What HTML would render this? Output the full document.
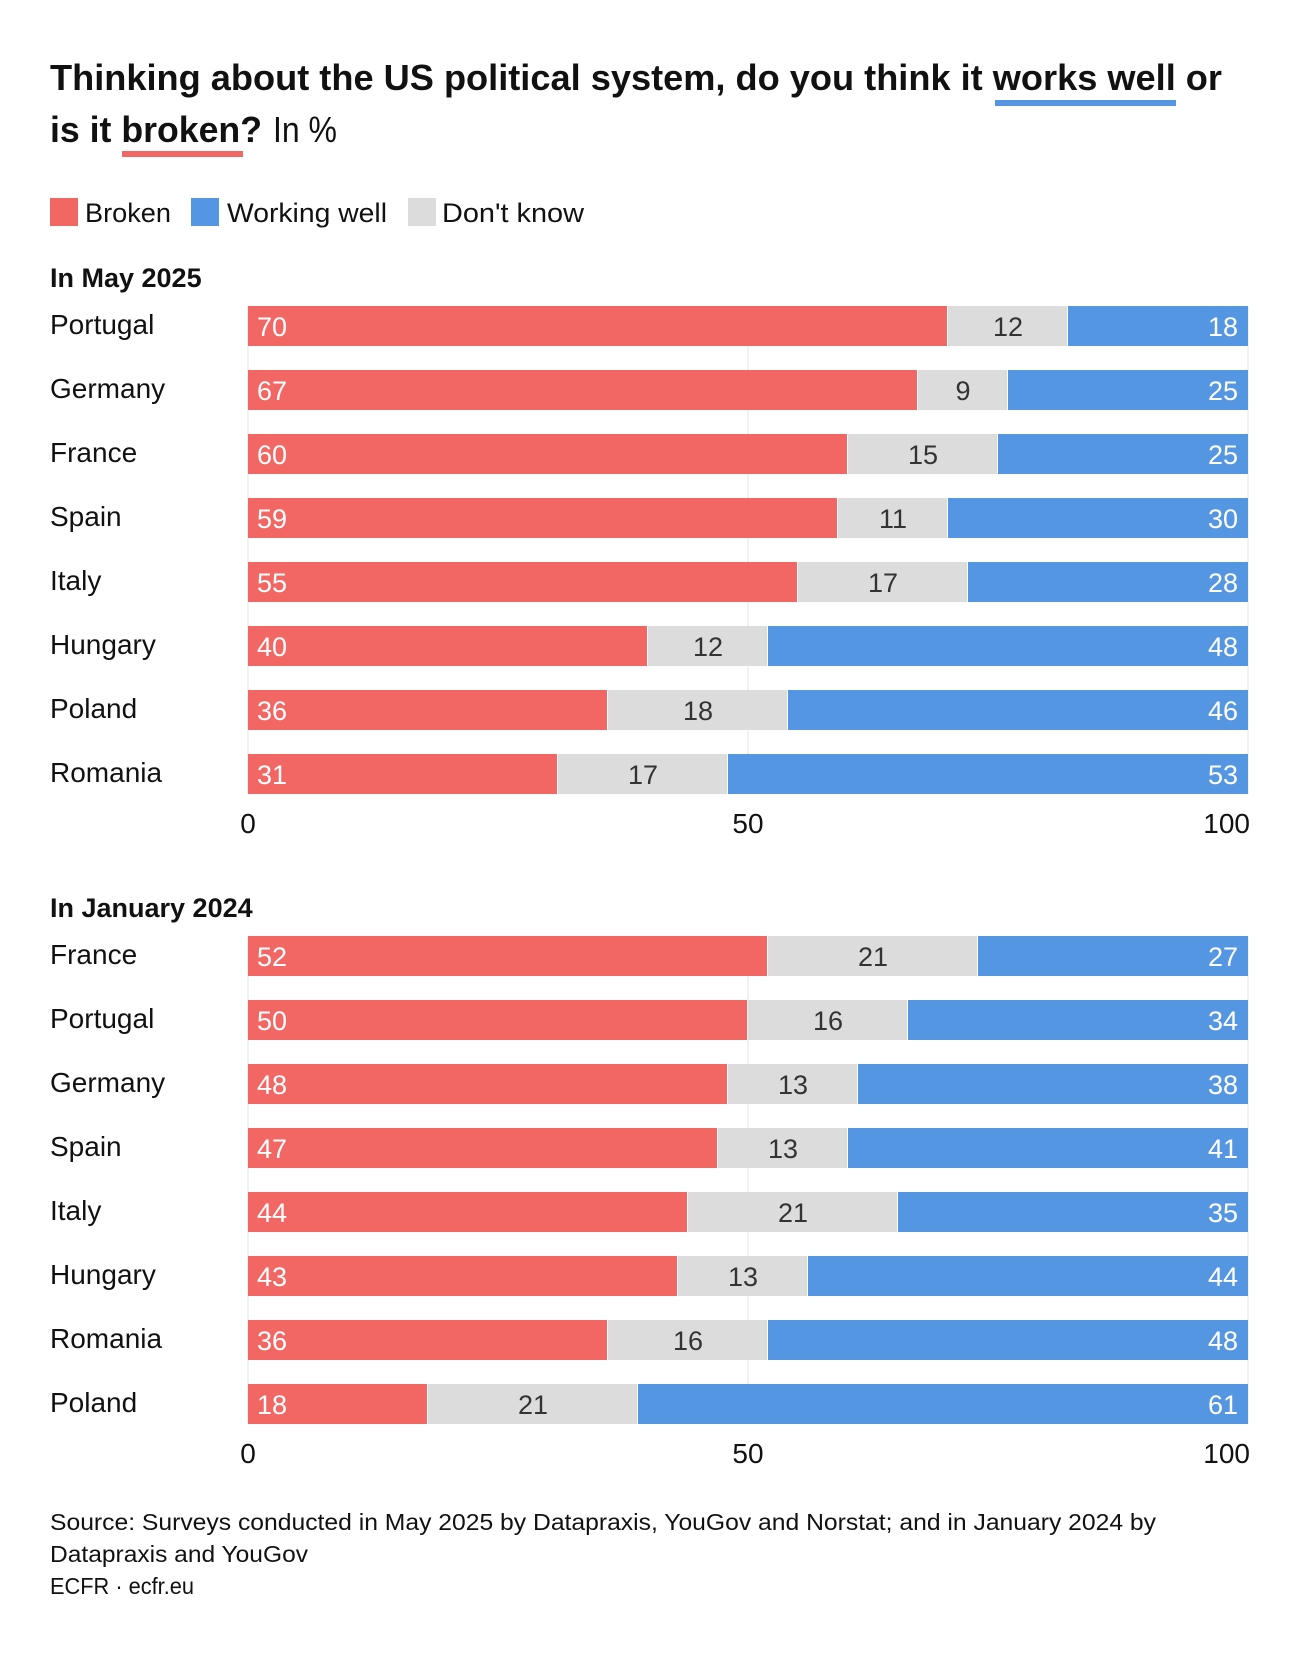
<!DOCTYPE html>
<html><head><meta charset="utf-8"><style>
html,body{margin:0;padding:0;background:#fff;}
svg{display:block;font-family:"Liberation Sans",sans-serif;}
</style></head><body>
<svg id="chart" width="1300" height="1654" viewBox="0 0 1300 1654" xmlns="http://www.w3.org/2000/svg">
<text x="50" y="90" font-size="36" font-weight="bold" fill="#111" textLength="1172" lengthAdjust="spacingAndGlyphs">Thinking about the US political system, do you think it works well or</text>
<rect x="995" y="100" width="181" height="6" fill="#5596e2"/>
<text x="50" y="142" font-size="36" fill="#111"><tspan font-weight="bold" textLength="212" lengthAdjust="spacingAndGlyphs">is it broken?</tspan><tspan x="273" textLength="64" lengthAdjust="spacingAndGlyphs">In %</tspan></text>
<rect x="122" y="151" width="121" height="6" fill="#f26764"/>
<g>
<rect x="50" y="198" width="28" height="28" fill="#f26764"/>
<text x="85" y="222" font-size="27" fill="#111" textLength="86" lengthAdjust="spacingAndGlyphs">Broken</text>
<rect x="191" y="198" width="28" height="28" fill="#5596e2"/>
<text x="227" y="222" font-size="27" fill="#111" textLength="160" lengthAdjust="spacingAndGlyphs">Working well</text>
<rect x="408" y="198" width="28" height="28" fill="#dcdcdc"/>
<text x="442" y="222" font-size="27" fill="#111" textLength="142" lengthAdjust="spacingAndGlyphs">Don't know</text>
</g>
<g id="panels"></g>
<text x="50" y="1530" font-size="23" fill="#111" textLength="1106" lengthAdjust="spacingAndGlyphs">Source: Surveys conducted in May 2025 by Datapraxis, YouGov and Norstat; and in January 2024 by</text>
<text x="50" y="1562" font-size="23" fill="#111" textLength="258" lengthAdjust="spacingAndGlyphs">Datapraxis and YouGov</text>
<text x="50" y="1594" font-size="23" fill="#111" textLength="144" lengthAdjust="spacingAndGlyphs">ECFR · ecfr.eu</text>
</svg>
<script>
const mayCountries = ["Portugal","Germany","France","Spain","Italy","Hungary","Poland","Romania"];
const mayBroken = [70,67,60,59,55,40,36,31];
const mayDontKnow = [12,9,15,11,17,12,18,17];
const mayWorking = [18,25,25,30,28,48,46,53];
const janCountries = ["France","Portugal","Germany","Spain","Italy","Hungary","Romania","Poland"];
const janBroken = [52,50,48,47,44,43,36,18];
const janDontKnow = [21,16,13,13,21,13,16,21];
const janWorking = [27,34,38,41,35,44,48,61];
const ticks = [0,50,100];

const NS = "http://www.w3.org/2000/svg";
const X0 = 248, X1 = 1248;
const xs = v => X0 + (X1 - X0) * v / 100;
const root = document.getElementById("panels");
function mk(tag, attrs, parent, text) {
  const e = document.createElementNS(NS, tag);
  for (const k in attrs) e.setAttribute(k, attrs[k]);
  if (text !== undefined) e.textContent = text;
  parent.appendChild(e);
  return e;
}
function panel(title, titleY, top, countries, br, dk, wk, key) {
  const g = mk("g", {}, root);
  
  
  const t = mk("text", {x: 50, y: titleY, "font-size": 27, "font-weight": "bold", fill: "#111"}, g, title);
  
  
  const pitch = 64, bh = 40;
  const bottom = top + (countries.length - 1) * pitch + bh;
  ticks.forEach(v => {
    const l = mk("line", {x1: xs(v), x2: xs(v), y1: top, y2: bottom, stroke: "#e3e3e3", "stroke-width": 1}, g);
    
    
    const anchor = v === 100 ? "end" : "middle";
    const tx = mk("text", {x: v === 100 ? xs(v) + 2 : xs(v), y: bottom + 39, "font-size": 28, fill: "#111", "text-anchor": anchor}, g, String(v));
    
    
  });
  countries.forEach((c, i) => {
    const y = top + i * pitch;
    const lab = mk("text", {x: 50, y: y + 28, "font-size": 28, fill: "#111"}, g, c);
    
    
    const a = br[i], b = dk[i], w = wk[i];
    const r1 = mk("rect", {x: xs(0), y: y, width: xs(a) - xs(0) - 1, height: bh, fill: "#f26764"}, g);
    
    
    const r2 = mk("rect", {x: xs(a), y: y, width: xs(a + b) - xs(a) - 1, height: bh, fill: "#dcdcdc"}, g);
    
    
    const r3 = mk("rect", {x: xs(a + b), y: y, width: xs(100) - xs(a + b), height: bh, fill: "#5596e2"}, g);
    
    
    const v1 = mk("text", {x: xs(0) + 9, y: y + 30, "font-size": 27, fill: "#fff"}, g, String(a));
    
    
    const v2 = mk("text", {x: (xs(a) + xs(a + b)) / 2, y: y + 30, "font-size": 27, fill: "#333", "text-anchor": "middle"}, g, String(b));
    
    
    const v3 = mk("text", {x: xs(100) - 10, y: y + 30, "font-size": 27, fill: "#fff", "text-anchor": "end"}, g, String(w));
    
    
  });
}
panel("In May 2025", 287, 306, mayCountries, mayBroken, mayDontKnow, mayWorking, "may-2025");
panel("In January 2024", 917, 936, janCountries, janBroken, janDontKnow, janWorking, "jan-2024");
</script>
</body></html>
